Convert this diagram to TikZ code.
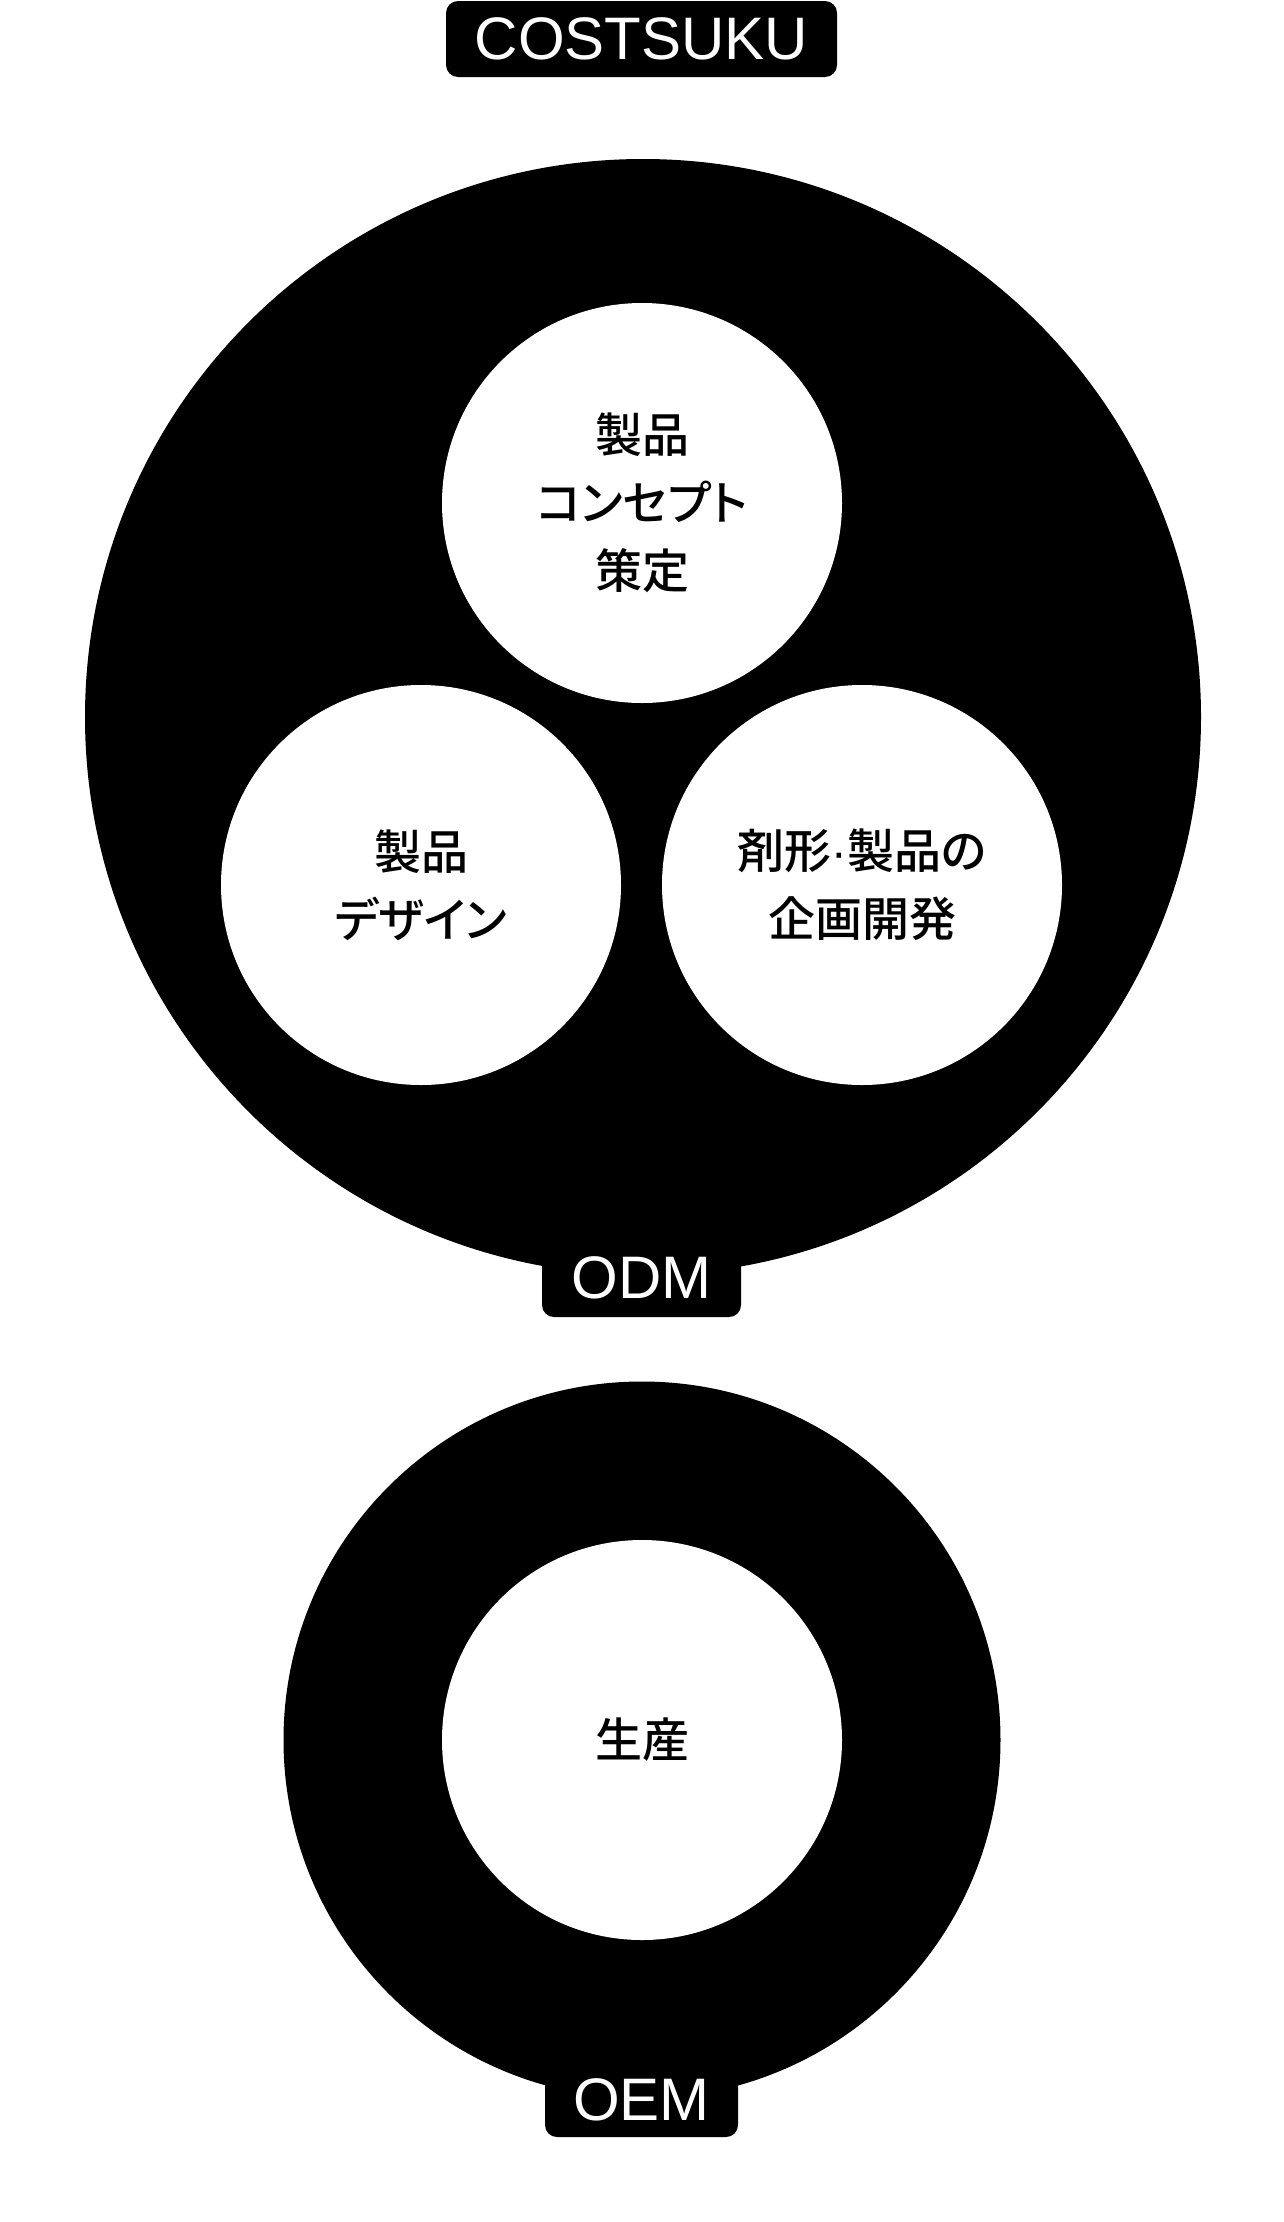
\documentclass[tikz,border=0pt]{standalone}
\usepackage{fontspec}
\setmainfont{Liberation Sans}
\newfontfamily\jpfont[RawFeature=+palt]{Noto Sans CJK JP Medium}
\usetikzlibrary{positioning}

\begin{document}
\begin{tikzpicture}[
        x=1pt, y=-1pt,
        ring/.style={circle, fill=black, inner sep=0pt},
        topic/.style={circle, fill=white, inner sep=0pt, minimum size=400pt, align=center, font=\jpfont\fontsize{47}{68}\selectfont},
        tag/.style={rectangle, rounded corners=12pt, fill=black, text=white, inner sep=0pt, font=\fontsize{60}{60}\selectfont}
    ]
        \useasboundingbox (0,0) rectangle (1284,2222);

        % Title
        \node (brand) [tag, minimum width=391pt, minimum height=76pt] at (641.5,39) {COSTSUKU};

        % Outer rings
        \node (odm) [ring, minimum size=1116pt] at (643,717) {};
        \node (oem) [ring, minimum size=717pt] at (642,1740) {};

        % Ring labels
        \node (odmtag) [tag, minimum width=199pt, minimum height=78pt] at (641.5,1278) {ODM};
        \node (oemtag) [tag, minimum width=193pt, minimum height=75pt] at (641.5,2099.5) {OEM};

        % Topics
        \node (concept) [topic] at (642,503) {製品\\コンセプト\\策定};
        \node (design) [topic] at (421,885) {製品\\デザイン};
        \node (planning) [topic] at (862,885) {剤形{\rmfamily ·}製品の\\企画開発};
        \node (production) [topic] at (642,1740) {生産};

    \end{tikzpicture}
\end{document}
